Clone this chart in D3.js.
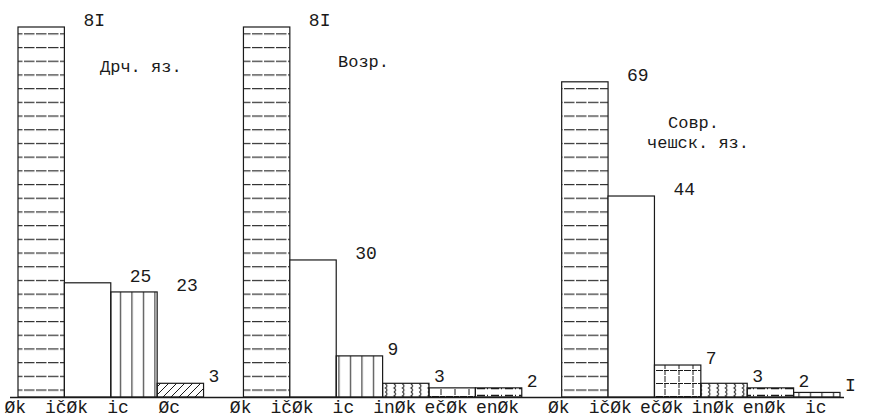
<!DOCTYPE html>
<html>
<head>
<meta charset="utf-8">
<script src="https://cdn.jsdelivr.net/npm/d3@7"></script>
<style>
  body { margin: 0; background: #fff; }
  text { font-family: "Liberation Mono", "DejaVu Sans Mono", monospace; fill: #1a1a1a; }
</style>
</head>
<body>
<svg></svg>
<script>
var width = 872;
var height = 419;

// data
const groupNames = ["Дрч. яз.", "Возр.", "Совр. чешск. яз."];

const cats1 = ["Øk", "ičØk", "ic", "Øc"];
const vals1 = [81, 25, 23, 3];
const labels1 = ["81", "25", "23", "3"];

const cats2 = ["Øk", "ičØk", "ic", "inØk", "ečØk", "enØk"];
const vals2 = [81, 30, 9, 3, 2, 2];
const labels2 = ["81", "30", "9", "3", "", "2"];

const cats3 = ["Øk", "ičØk", "ečØk", "inØk", "enØk", "ic"];
const vals3 = [69, 44, 7, 3, 2, 1];
const labels3 = ["69", "44", "7", "3", "2", "1"];

const groupCats = [cats1, cats2, cats3];
const groupVals = [vals1, vals2, vals3];
const groupLabels = [labels1, labels2, labels3];

// fill pattern used for each suffix
const patternOf = {
  "Øk": "horiz", "ičØk": "none", "ic": "vert", "Øc": "diag",
  "inØk": "wave", "ečØk": "grid", "enØk": "dash"
};

const gapSlots = 0.86;
let bars = [];
let slot = 0;
groupCats.forEach((cats, g) => {
  cats.forEach((c, i) => {
    bars.push({group: g, idx: i, cat: c, value: groupVals[g][i], label: groupLabels[g][i], slot: slot});
    slot += 1;
  });
  slot += gapSlots;
});
const totalSlots = slot - gapSlots;

var x = d3.scaleLinear()
    .domain([0, totalSlots])
    .range([18, 840]);

var y = d3.scaleLinear()
    .domain([0, 81])
    .range([397, 27]);

const bw = x(1) - x(0);
// typewriter has no "1": it types a capital I
const typed = s => s.replace(/1/g, "I");

const svg = d3.select("svg")
    .attr("width", width)
    .attr("height", height);

const defs = svg.append("defs");
const ink = "#1a1a1a";

function pat(id, w, h) {
  return defs.append("pattern")
      .attr("id", id)
      .attr("patternUnits", "userSpaceOnUse")
      .attr("width", w)
      .attr("height", h);
}
pat("horiz", 12, 13.7).append("path")
    .attr("d", "M0,6.5H12").attr("stroke", ink).attr("stroke-width", 1.1)
    .attr("stroke-dasharray", "10.5 1.5");
pat("vert", 11.5, 12).append("path")
    .attr("d", "M5.5,0V12").attr("stroke", ink).attr("stroke-width", 1);
pat("diag", 8, 8).append("path")
    .attr("d", "M0,8L8,0M-2,2L2,-2M6,10L10,6").attr("stroke", ink).attr("stroke-width", 1);
pat("wave", 8.5, 8).append("path")
    .attr("d", "M3,0q3,2 0,4q3,2 0,4").attr("fill", "none").attr("stroke", ink).attr("stroke-width", 1.1);
pat("grid", 14, 13).append("path")
    .attr("d", "M0,6.5H14M7,0V13").attr("stroke", ink).attr("stroke-width", 1)
    .attr("stroke-dasharray", "5 1");
pat("dash", 14, 7).append("path")
    .attr("d", "M1,3.5H9M11,3.5H12").attr("stroke", ink).attr("stroke-width", 1.3);

// bars
const bar = svg.selectAll("g.bar")
    .data(bars)
    .join("g")
    .attr("class", "bar");

bar.append("rect")
    .attr("x", d => x(d.slot))
    .attr("y", d => y(d.value))
    .attr("width", bw)
    .attr("height", d => y(0) - y(d.value))
    .attr("fill", d => patternOf[d.cat] === "none" ? "#fff" : `url(#${patternOf[d.cat]})`)
    .attr("stroke", ink)
    .attr("stroke-width", 1.2);

// value labels, typed to the upper right of each bar
bar.append("text")
    .attr("x", d => x(d.slot + 1) + (d.value >= 10 ? 19 : 5))
    .attr("y", d => y(d.value) - 1)
    .attr("font-size", 18)
    .text(d => typed(d.label));

// category labels typed on one line under the bars
bar.append("text")
    .attr("x", d => x(d.slot + 0.5) - 26 + 5 * d.idx)
    .attr("y", 413)
    .attr("text-anchor", "middle")
    .attr("font-size", 18)
    .text(d => d.cat);

// base line
svg.append("path")
    .attr("d", `M${x(0) - 8},${y(0) + 0.5}H${x(totalSlots) + 4}`)
    .attr("stroke", ink)
    .attr("stroke-width", 1.4);

// group titles
const titles = [
  {lines: [groupNames[0]], x: [100], y: 72},
  {lines: [groupNames[1]], x: [338], y: 67},
  {lines: ["Совр.", "чешск. яз."], x: [668, 647], y: 128}
];
titles.forEach(t => {
  t.lines.forEach((s, i) => {
    svg.append("text")
        .attr("x", t.x[i])
        .attr("y", t.y + i * 20)
        .attr("font-size", 17)
        .text(s);
  });
});
</script>
</body>
</html>
